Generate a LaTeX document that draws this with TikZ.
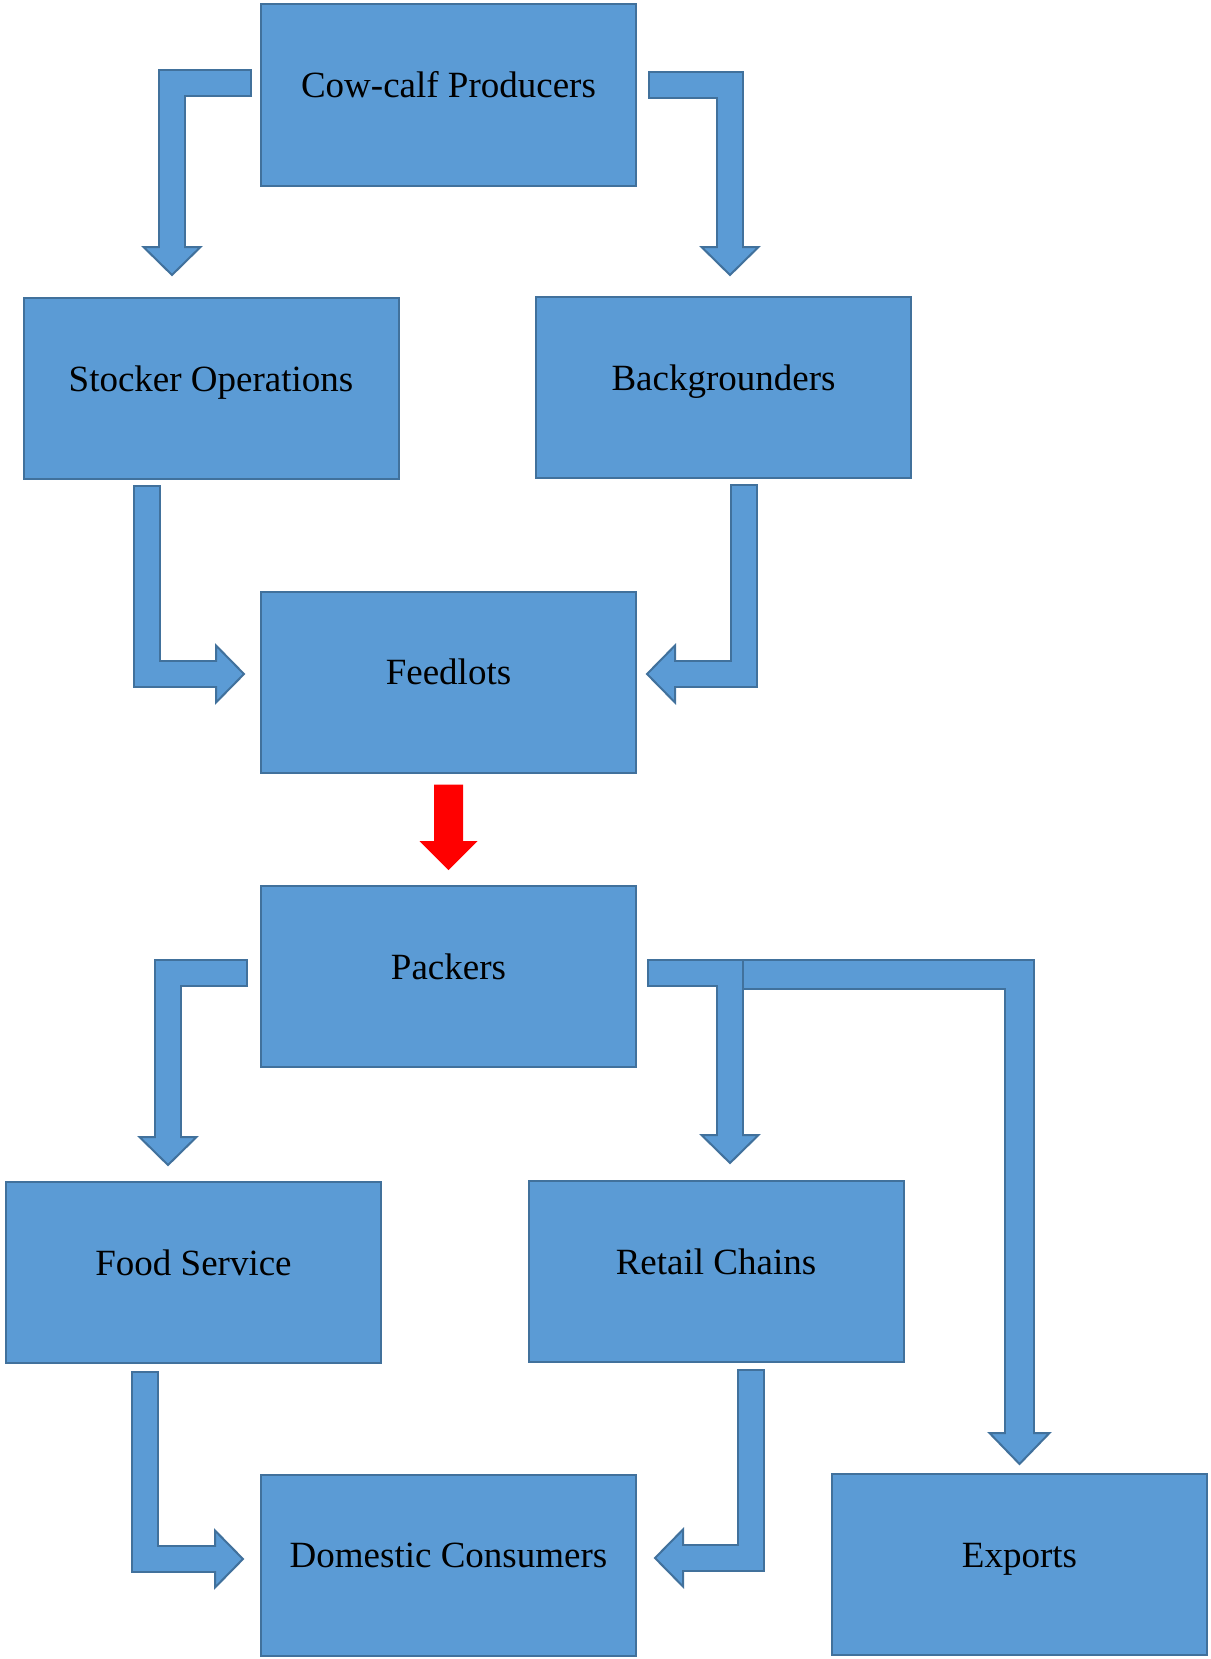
\documentclass[tikz,border=0pt]{standalone}
\usepackage{fontspec}
\setmainfont{Liberation Serif}
\usetikzlibrary{calc}
\definecolor{boxfill}{HTML}{5B9BD5}
\definecolor{boxline}{HTML}{41719C}
\tikzset{
    chainbox/.style={draw=boxline, line width=2pt, fill=boxfill,
        minimum width=375pt, minimum height=181pt, inner sep=0pt, outer sep=1pt,
        font=\fontsize{37pt}{44pt}\selectfont, text height=26pt, text depth=21pt}
}
\newcommand{\bentarrow}[4][28]{%
    \pgfmathsetmacro{\hw}{(#1+29)/2}
    \pgfmathsetmacro{\hl}{#1}
    \pgfmathsetmacro{\iw}{#1-4}
    \coordinate (tip) at (#4);
    \coordinate (corner) at (#3);
    \coordinate (base) at ($(tip)!\hl pt!(corner)$);
    \draw[boxline, line width=#1pt, line join=miter] (#2) -- (corner) -- (base);
    \filldraw[fill=boxfill, draw=boxline, line width=2pt, line join=miter]
        ($(base)!\hw pt!90:(tip)$) -- (tip) -- ($(base)!\hw pt!-90:(tip)$) -- cycle;
    \draw[boxfill, line width=\iw pt, line join=miter, shorten <=2pt, shorten >=-3pt]
        (#2) -- (corner) -- (base);
}

\begin{document}
\begin{tikzpicture}[x=1pt, y=-1pt]
                        \useasboundingbox (0,0) rectangle (1210,1659);

                        \node[chainbox] (cow)      at (448.5,95)    {Cow-calf Producers};
                        \node[chainbox] (stocker)  at (211,388.5)   {Stocker Operations};
                        \node[chainbox] (backgr)   at (723.5,387.5) {Backgrounders};
                        \node[chainbox] (feedlots) at (448.5,682)   {Feedlots};
                        \node[chainbox] (packers)  at (448.5,976.5) {Packers};
                        \node[chainbox] (food)     at (193.5,1272.5){Food Service};
                        \node[chainbox] (retail)   at (716,1271.5)  {Retail Chains};
                        \node[chainbox] (domestic) at (448.5,1565)  {Domestic Consumers};
                        \node[chainbox] (exports)  at (1019.5,1564.5){Exports};

                        \coordinate (s1) at ($(cow.west)+(-8,-11.5)$);
                        \coordinate (t1) at ($(stocker.north)+(-39,-22)$);
                        \coordinate (s2) at ($(cow.east)+(11,-10)$);
                        \coordinate (t2) at ($(backgr.north)+(6.5,-21)$);
                        \coordinate (s3) at ($(stocker.south)+(-64.5,5)$);
                        \coordinate (t3) at ($(feedlots.west)+(-16,-8)$);
                        \coordinate (s4) at ($(backgr.south)+(20.5,5)$);
                        \coordinate (t4) at ($(feedlots.east)+(10,-8)$);
                        \coordinate (s5) at ($(packers.west)+(-12,-4)$);
                        \coordinate (t5) at ($(food.north)+(-25.5,-16)$);
                        \coordinate (s6) at ($(packers.east)+(10,-3.5)$);
                        \coordinate (t6) at ($(retail.north)+(14,-17)$);
                        \coordinate (s7) at ($(packers.east)+(79,-2)$);
                        \coordinate (t7) at ($(exports.north)+(0,-9)$);
                        \coordinate (s8) at ($(food.south)+(-48.5,7)$);
                        \coordinate (t8) at ($(domestic.west)+(-17,-6)$);
                        \coordinate (s9) at ($(retail.south)+(35,6)$);
                        \coordinate (t9) at ($(domestic.east)+(18,-7)$);
                        \coordinate (rs) at ($(feedlots.south)+(0,11)$);
                        \coordinate (rt) at ($(packers.north)+(0,-15)$);
                        \coordinate (rb) at ($(rt)+(0,-29)$);

                        \bentarrow{s1}{s1 -| t1}{t1}
                        \bentarrow{s2}{s2 -| t2}{t2}
                        \bentarrow{s3}{s3 |- t3}{t3}
                        \bentarrow{s4}{s4 |- t4}{t4}
                        \bentarrow{s5}{s5 -| t5}{t5}
                        \bentarrow[31]{s7}{s7 -| t7}{t7}
                        \bentarrow{s6}{s6 -| t6}{t6}
                        \bentarrow{s8}{s8 |- t8}{t8}
                        \bentarrow{s9}{s9 |- t9}{t9}

                        \fill[red] ($(rs)+(-14.5,0)$) -- ($(rb)+(-14.5,0)$) -- ($(rb)+(-29,0)$) -- (rt)
                            -- ($(rb)+(29,0)$) -- ($(rb)+(14.5,0)$) -- ($(rs)+(14.5,0)$) -- cycle;
                    \end{tikzpicture}
\end{document}
